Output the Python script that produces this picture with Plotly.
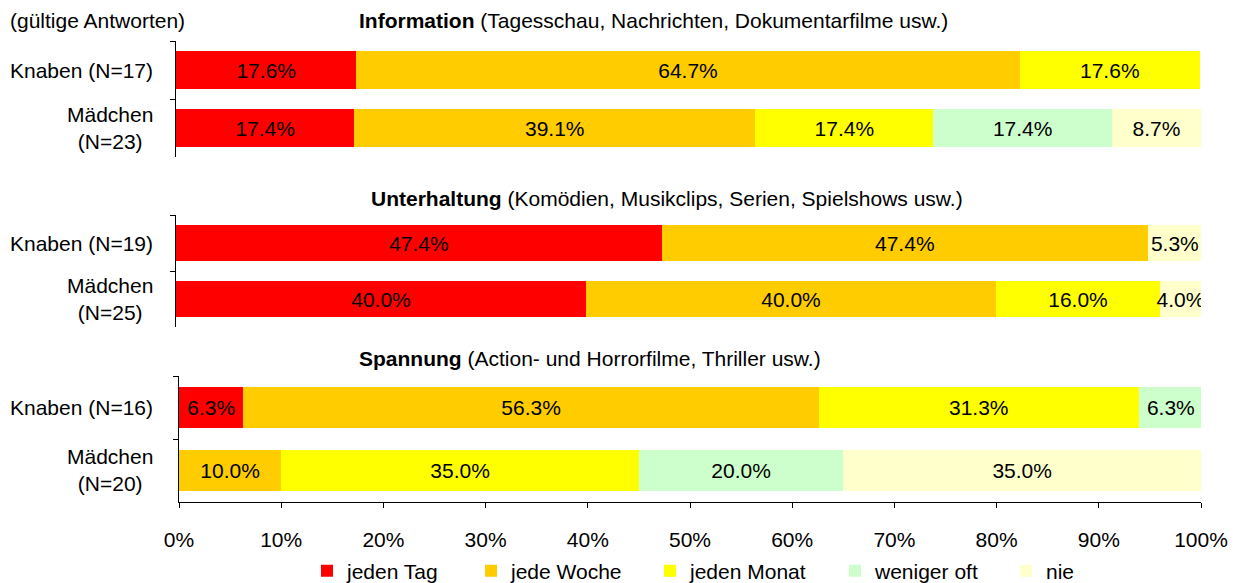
import plotly.graph_objects as go

# ---- data ----
categories = ["jeden Tag", "jede Woche", "jeden Monat", "weniger oft", "nie"]
colors = ["#FF0000", "#FFCC00", "#FFFF00", "#CCFFCC", "#FFFFCC"]

panel_titles_bold = ["Information", "Unterhaltung", "Spannung"]
panel_titles_rest = [" (Tagesschau, Nachrichten, Dokumentarfilme usw.)",
                     " (Komödien, Musikclips, Serien, Spielshows usw.)",
                     " (Action- und Horrorfilme, Thriller usw.)"]
row_labels = [["Knaben (N=17)", "Mädchen<br>(N=23)"],
              ["Knaben (N=19)", "Mädchen<br>(N=25)"],
              ["Knaben (N=16)", "Mädchen<br>(N=20)"]]

# values per panel: [Knaben, Mädchen] for each category
info_knaben = [17.6, 64.7, 17.6, 0.0, 0.0]
info_maedchen = [17.4, 39.1, 17.4, 17.4, 8.7]
unterh_knaben = [47.4, 47.4, 0.0, 0.0, 5.3]
unterh_maedchen = [40.0, 40.0, 16.0, 0.0, 4.0]
spann_knaben = [6.3, 56.3, 31.3, 6.3, 0.0]
spann_maedchen = [0.0, 10.0, 35.0, 20.0, 35.0]

panels = [(info_knaben, info_maedchen),
          (unterh_knaben, unterh_maedchen),
          (spann_knaben, spann_maedchen)]

x_ticks = [0, 10, 20, 30, 40, 50, 60, 70, 80, 90, 100]

# ---- layout geometry (pixels) ----
W, H = 1237, 583
FONT = "Liberation Sans, Arial, sans-serif"
FS = 21

def fy(px):
    return (H - px) / H

panel_px = [(41, 157), (215, 327), (376, 502)]
xdom_px = [(176, 1201), (176, 1201), (179, 1201)]
title_pos = [(357, 20), (369, 198), (357, 358)]
legend_square_px = [326, 490, 669, 854, 1025]
legend_names = ["legend", "legend2", "legend3", "legend4", "legend5"]

fig = go.Figure()
cat_keys = ["K", "M"]

for p, (kn, md) in enumerate(panels):
    xa = "x" if p == 0 else f"x{p+1}"
    ya = "y" if p == 0 else f"y{p+1}"
    for c, cat in enumerate(categories):
        vals = [kn[c], md[c]]
        txt = [f"{v:.1f}%" if v > 0 else "" for v in vals]
        fig.add_trace(go.Bar(
            x=vals, y=cat_keys, orientation="h",
            name=cat, legendgroup=cat, showlegend=(p == 0),
            legend=legend_names[c],
            marker=dict(color=colors[c], line=dict(width=0)),
            width=0.66,
            text=txt, textposition="inside", insidetextanchor="middle",
            textangle=0, constraintext="none",
            textfont=dict(family=FONT, size=FS, color="black"),
            hoverinfo="skip",
            xaxis=xa, yaxis=ya,
        ))

layout = dict(
    width=W, height=H, autosize=False,
    margin=dict(l=0, r=0, t=0, b=0, pad=0, autoexpand=False),
    paper_bgcolor="white", plot_bgcolor="white",
    barmode="stack",
    font=dict(family=FONT, size=FS, color="black"),
    uniformtext=dict(minsize=FS, mode="show"),
    showlegend=True,
)

for c, ln in enumerate(legend_names):
    layout[ln] = dict(orientation="h", x=(legend_square_px[c] - 19) / W,
                      xanchor="left", y=fy(571), yanchor="middle",
                      font=dict(family=FONT, size=FS, color="black"),
                      itemwidth=30, bgcolor="rgba(0,0,0,0)",
                      borderwidth=0)

for p in range(3):
    xk = "xaxis" if p == 0 else f"xaxis{p+1}"
    yk = "yaxis" if p == 0 else f"yaxis{p+1}"
    xs = "x" if p == 0 else f"x{p+1}"
    ys = "y" if p == 0 else f"y{p+1}"
    top, bot = panel_px[p]
    layout[yk] = dict(
        domain=[fy(bot), fy(top)], anchor=xs,
        type="category", range=[1.5, -0.5],
        showticklabels=False, ticks="outside", ticklen=5,
        tickcolor="black", tickson="boundaries",
        showline=True, linecolor="black", linewidth=1,
        showgrid=False, zeroline=False, fixedrange=True,
        automargin=False,
    )
    xd = xdom_px[p]
    xaxis = dict(domain=[xd[0] / W, xd[1] / W], anchor=ys,
                 range=[0, 100], showgrid=False, zeroline=False,
                 fixedrange=True, automargin=False)
    if p == 2:
        xaxis.update(showline=True, linecolor="black", linewidth=1,
                     ticks="outside", ticklen=5, tickcolor="black",
                     tickvals=x_ticks,
                     ticktext=[f"{t}%" for t in x_ticks],
                     ticklabelstandoff=14,
                     tickfont=dict(family=FONT, size=FS, color="black"))
    else:
        xaxis.update(visible=False)
    layout[xk] = xaxis

fig.update_layout(**layout)

annotations = []
annotations.append(dict(text="(gültige Antworten)", xref="paper", yref="paper",
                        x=8 / W, y=fy(20), xanchor="left", yanchor="middle",
                        showarrow=False, font=dict(family=FONT, size=FS)))
for p in range(3):
    tx, ty = title_pos[p]
    annotations.append(dict(
        text=f"<b>{panel_titles_bold[p]}</b>{panel_titles_rest[p]}",
        xref="paper", yref="paper", x=tx / W, y=fy(ty),
        xanchor="left", yanchor="middle", showarrow=False,
        font=dict(family=FONT, size=FS)))
    ys = "y" if p == 0 else f"y{p+1}"
    for i, lab in enumerate(row_labels[p]):
        annotations.append(dict(
            text=lab, xref="paper", yref=ys, x=155 / W, y=cat_keys[i],
            xanchor="right", yanchor="middle", align="center",
            showarrow=False, font=dict(family=FONT, size=FS)))

fig.update_layout(annotations=annotations)

fig.write_html(
    "out.html",
    config={"responsive": False, "displayModeBar": False},
    post_script="document.body.style.margin='0';"
                "document.body.style.overflow='hidden';"
                "document.documentElement.style.overflow='hidden';",
)
